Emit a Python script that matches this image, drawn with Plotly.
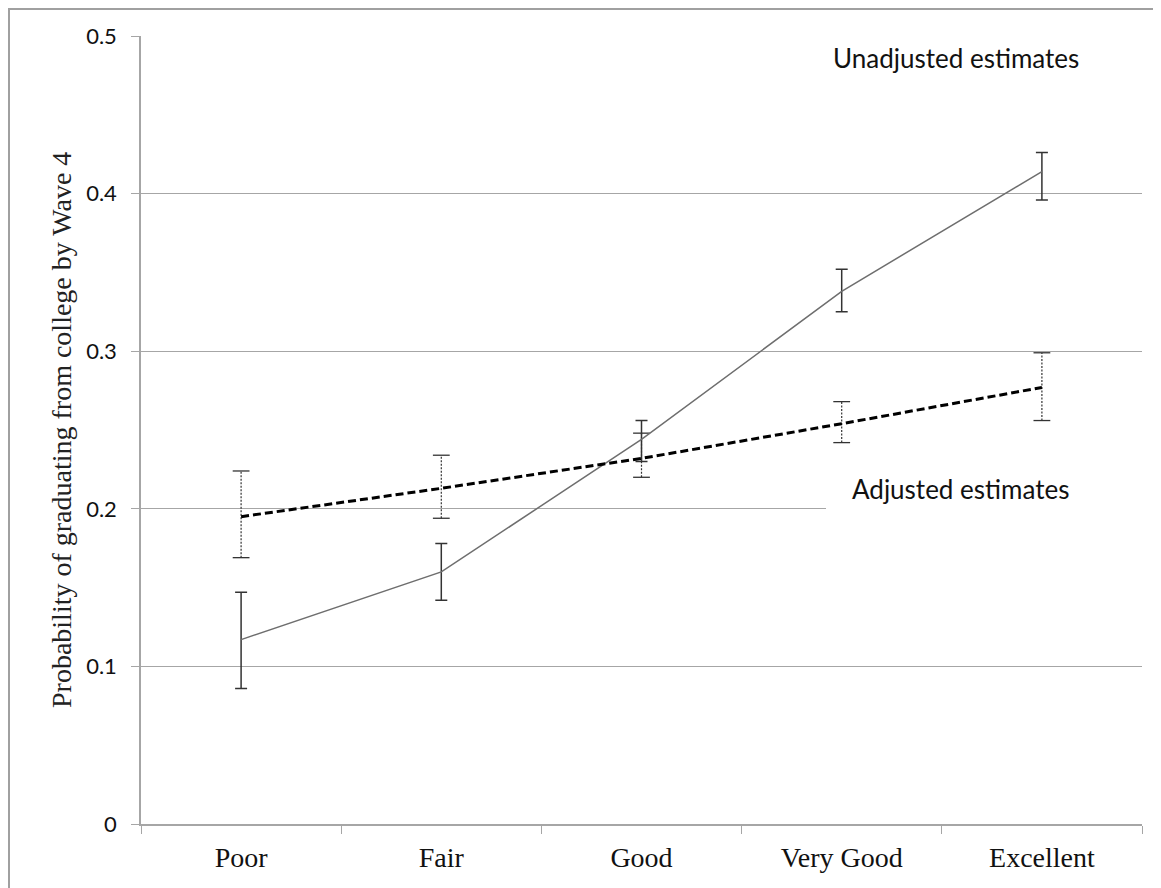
import plotly.graph_objects as go

categories = ["Poor", "Fair", "Good", "Very Good", "Excellent"]

unadjusted = [0.117, 0.160, 0.244, 0.338, 0.414]
unadjusted_hi = [0.147, 0.178, 0.256, 0.352, 0.426]
unadjusted_lo = [0.086, 0.142, 0.230, 0.325, 0.396]

adjusted = [0.195, 0.213, 0.232, 0.254, 0.277]
adjusted_hi = [0.224, 0.234, 0.248, 0.268, 0.299]
adjusted_lo = [0.169, 0.194, 0.220, 0.242, 0.256]

y_ticks = [0, 0.1, 0.2, 0.3, 0.4, 0.5]
y_tick_text = ["0", "0.1", "0.2", "0.3", "0.4", "0.5"]

GRID = "#a6a6a6"
SANS = "Lato, Open Sans, sans-serif"
SERIF = "Liberation Serif, DejaVu Serif, serif"

# page body has an 8px margin; figure sized to fit
W, H = 1153, 880
ML, MR, MT, MB = 133, 19, 28, 64
PW = W - ML - MR
PH = H - MT - MB

fig = go.Figure()

# dotted error bars for adjusted estimates
bx, by = [], []
for c, lo, hi in zip(categories, adjusted_lo, adjusted_hi):
    bx += [c, c, None]
    by += [lo, hi, None]
fig.add_trace(go.Scatter(
    x=bx, y=by, mode="lines", connectgaps=False,
    line=dict(color="#333333", width=1.2, dash="2px,1.5px"),
    hoverinfo="skip", showlegend=False))
fig.add_trace(go.Scatter(
    x=categories + categories, y=adjusted_lo + adjusted_hi, mode="markers",
    marker=dict(symbol="line-ew", size=12, line=dict(color="#333333", width=1.3)),
    hoverinfo="skip", showlegend=False))

# unadjusted (solid)
fig.add_trace(go.Scatter(
    x=categories, y=unadjusted, mode="lines", name="Unadjusted estimates",
    line=dict(color="#6e6e6e", width=1.5),
    error_y=dict(type="data", symmetric=False,
                 array=[h - v for h, v in zip(unadjusted_hi, unadjusted)],
                 arrayminus=[v - l for v, l in zip(unadjusted, unadjusted_lo)],
                 color="#333333", thickness=1.5, width=6),
    showlegend=False))

# adjusted (dashed)
fig.add_trace(go.Scatter(
    x=categories, y=adjusted, mode="lines", name="Adjusted estimates",
    line=dict(color="#000000", width=3, dash="8px,4px"),
    showlegend=False))

fig.update_layout(
    width=W, height=H,
    margin=dict(l=ML, r=MR, t=MT, b=MB),
    paper_bgcolor="white", plot_bgcolor="white",
    showlegend=False,
    xaxis=dict(
        type="category", categoryorder="array", categoryarray=categories,
        range=[-0.5, 4.5], tickson="boundaries", ticks="outside", ticklen=8,
        tickcolor=GRID, showline=True, linecolor=GRID, linewidth=1.5,
        showgrid=False, zeroline=False,
        tickfont=dict(family=SERIF, size=28, color="#111111"),
        ticklabelstandoff=8,
    ),
    yaxis=dict(
        range=[0, 0.5], tickvals=y_ticks, ticktext=y_tick_text,
        ticks="outside", ticklen=8, tickcolor=GRID,
        showline=True, linecolor=GRID, linewidth=1.5,
        showgrid=True, gridcolor=GRID, gridwidth=1, zeroline=False,
        tickfont=dict(family=SANS, size=22, color="#111111"),
        ticklabelstandoff=10,
    ),
    shapes=[
        dict(type="rect", xref="paper", yref="y", x0=(826 - 141) / PW, x1=1.0,
             y0=0.19, y1=0.21, fillcolor="white", line=dict(width=0),
             layer="above"),
        dict(type="rect", xref="paper", yref="paper",
             x0=(1 - ML) / PW, x1=1.1, y0=-0.2, y1=1 + (MT - 1) / PH,
             line=dict(color="#a0a0a0", width=2), fillcolor="rgba(0,0,0,0)",
             layer="above"),
    ],
    annotations=[
        dict(text="Unadjusted estimates", xref="paper", yref="paper",
             x=(956 - 141) / PW, y=(824 - 58) / PH, showarrow=False,
             xanchor="center", yanchor="middle",
             font=dict(family=SANS, size=26, color="#111111")),
        dict(text="Adjusted estimates", xref="paper", yref="paper",
             x=(960 - 141) / PW, y=(824 - 489) / PH, showarrow=False,
             xanchor="center", yanchor="middle",
             font=dict(family=SANS, size=26, color="#111111")),
        dict(text="Probability of graduating from college by Wave 4",
             xref="paper", yref="paper", x=(61 - 141) / PW, y=0.5, textangle=-90,
             showarrow=False, xanchor="center", yanchor="middle",
             font=dict(family=SERIF, size=28, color="#222222")),
    ],
)

fig.write_html("out.html")
